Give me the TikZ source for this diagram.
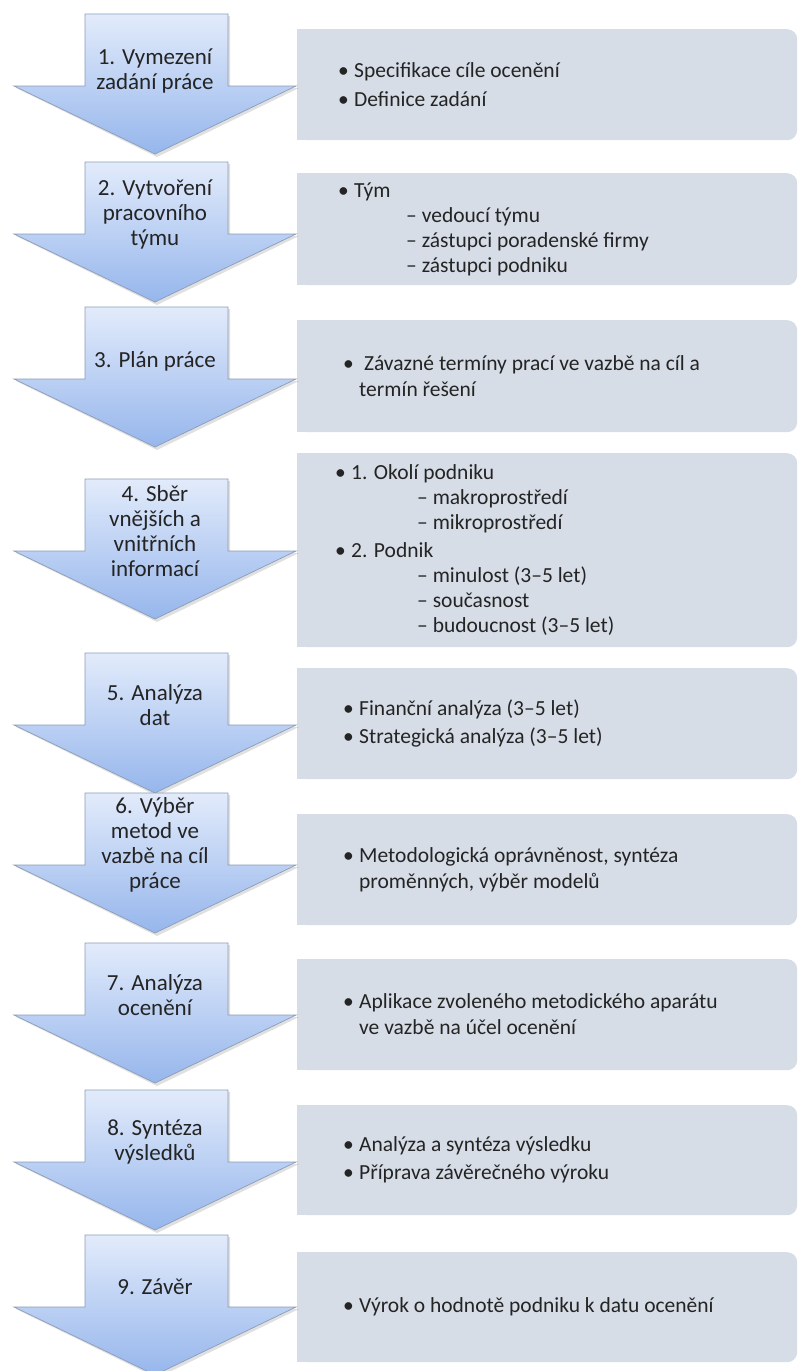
\documentclass[tikz,border=0pt]{standalone}
\usepackage{fontspec}
\setmainfont{Carlito}
\definecolor{arrowtop}{RGB}{226,235,251}
\definecolor{arrowbot}{RGB}{150,182,236}
\definecolor{arrowline}{RGB}{140,156,182}
\definecolor{boxfill}{RGB}{214,221,231}
\definecolor{textcol}{RGB}{36,36,36}
\newcommand\stepfont{\fontsize{23}{25}\selectfont}
\newcommand\infofont{\fontsize{21.5}{26}\selectfont}
\newcommand\bl{\makebox[16pt][l]{\textbullet}}
\newcommand\sub[1]{\hspace*{#1pt}–~}
\tikzset{
  arrowshape/.style={draw=arrowline, line width=0.7pt, top color=arrowtop, bottom color=arrowbot, line join=miter},
  arrowshadow/.style={fill=black, opacity=0.12},
  steptext/.style={align=center, font=\stepfont, text=textcol, inner sep=0pt},
  infobox/.style={fill=boxfill, rounded corners=10pt, minimum width=500pt, inner sep=0pt, anchor=north west},
  infotext/.style={align=left, font=\infofont, text=textcol, inner sep=0pt, anchor=west},
}
\newcommand\flowstep[4][52]{%
  \fill[arrowshadow] (87,{#3+2}) -- (230,{#3+2}) -- (230,{#3+74}) -- (299,{#3+74}) -- (157,{#3+143}) -- (16,{#3+74}) -- (87,{#3+74}) -- cycle;
  \path[arrowshape] (85,#3) -- (228,#3) -- (228,{#3+72}) -- (296,{#3+72}) -- (155,{#3+140}) -- (14,{#3+72}) -- (85,{#3+72}) -- cycle;
  \node[steptext] (#2) at (155,{#3+#1}) {#4};
}
\newcommand\infostep[5]{%
  \node[infobox, minimum height={#3-#2}] (#1) at (297,#2) {};
  \fill[boxfill] (#1.north west) rectangle ([xshift=15pt]#1.south west);
  \node[infotext] (#1t) at (#4,{(#2+#3)/2}) {#5};
}
\begin{document}
\begin{tikzpicture}[x=1pt,y=-1pt]
\useasboundingbox (0,0) rectangle (798,1371);
\fill[white] (0,0) rectangle (798,1371);

\infostep{b1}{29}{140}{338}{\bl Specifikace cíle ocenění\\[3pt]\bl Definice zadání}
\infostep{b2}{173}{285}{338}{\bl Tým\\[-1pt]\sub{68}vedoucí týmu\\[-1pt]\sub{68}zástupci poradenské firmy\\[-1pt]\sub{68}zástupci podniku}
\infostep{b3}{320}{432}{343}{\bl\ Závazné termíny prací ve vazbě na cíl a\\\hspace*{16pt}termín řešení}
\infostep{b4}{453}{647}{335}{\bl 1. Okolí podniku\\[-1pt]\sub{82}makroprostředí\\[-1pt]\sub{82}mikroprostředí\\[2pt]\bl 2. Podnik\\[-1pt]\sub{82}minulost (3–5 let)\\[-1pt]\sub{82}současnost\\[-1pt]\sub{82}budoucnost (3–5 let)}
\infostep{b5}{668}{779}{343}{\bl Finanční analýza (3–5 let)\\[2pt]\bl Strategická analýza (3–5 let)}
\infostep{b6}{814}{925}{343}{\bl Metodologická oprávněnost, syntéza\\\hspace*{16pt}proměnných, výběr modelů}
\infostep{b7}{959}{1070}{343}{\bl Aplikace zvoleného metodického aparátu\\\hspace*{16pt}ve vazbě na účel ocenění}
\infostep{b8}{1105}{1215}{343}{\bl Analýza a syntéza výsledku\\[2pt]\bl Příprava závěrečného výroku}
\infostep{b9}{1252}{1362}{343}{\bl Výrok o hodnotě podniku k datu ocenění}

\flowstep[57]{a1}{14}{1. Vymezení\\zadání práce}
\flowstep{a2}{162}{2. Vytvoření\\pracovního\\týmu}
\flowstep[54]{a3}{307}{3. Plán práce}
\flowstep{a4}{479}{4. Sběr\\vnějších a\\vnitřních\\informací}
\flowstep{a5}{653}{5. Analýza\\dat}
\flowstep{a6}{793}{6. Výběr\\metod ve\\vazbě na cíl\\práce}
\flowstep{a7}{943}{7. Analýza\\ocenění}
\flowstep{a8}{1090}{8. Syntéza\\výsledků}
\flowstep{a9}{1235}{9. Závěr}
\end{tikzpicture}
\end{document}
